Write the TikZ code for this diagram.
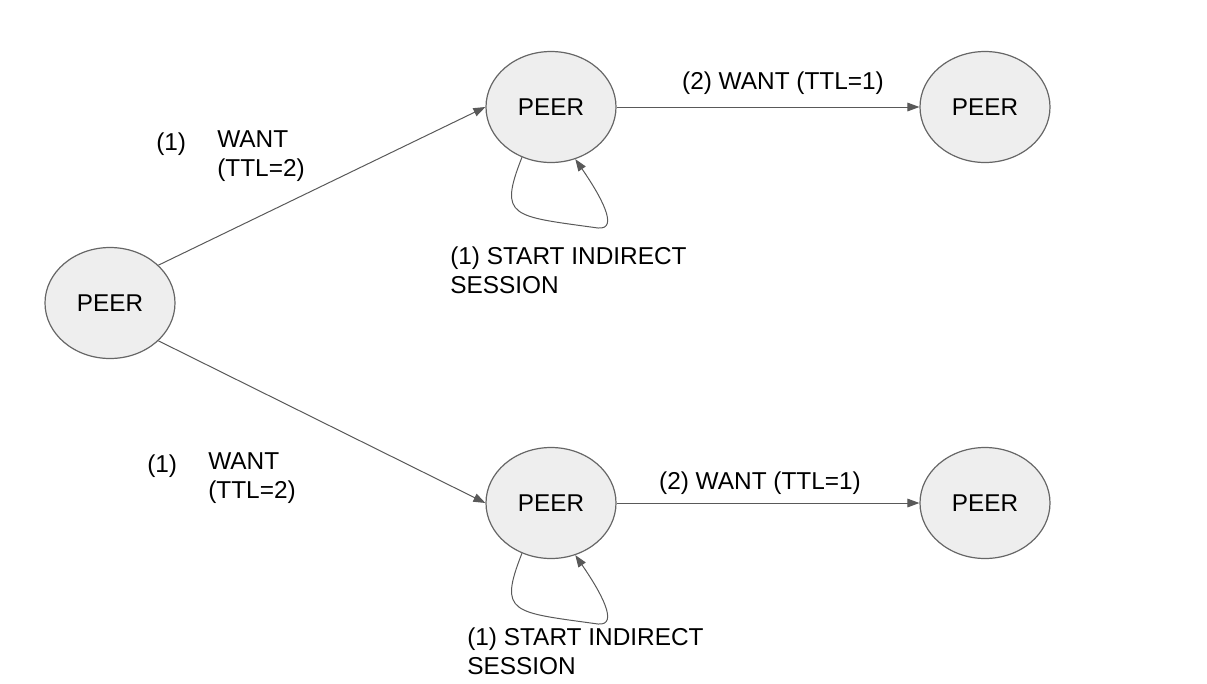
\documentclass[tikz,border=0pt]{standalone}
\usepackage{fontspec}
\setmainfont{Liberation Sans}
\usetikzlibrary{shapes.geometric,arrows.meta}
\definecolor{peerfill}{HTML}{EEEEEE}
\definecolor{peerline}{HTML}{666666}
\definecolor{edgecol}{HTML}{595959}
\begin{document}
\begin{tikzpicture}[x=0.75pt,y=-0.75pt,
  peer/.style={ellipse,draw=peerline,fill=peerfill,line width=0.9pt,minimum width=97.5pt,minimum height=83.25pt,inner sep=0pt,font=\fontsize{18.2}{21}\selectfont},
  lbl/.style={inner sep=0pt,font=\fontsize{18.3}{21.75}\selectfont,align=left},
  conn/.style={draw=edgecol,line width=0.75pt,-{Triangle[length=9pt,width=6.5pt]}}]
\useasboundingbox (0,0) rectangle (1207,683);
\node[peer] (A) at (110,303) {PEER};
\node[peer] (B) at (551,107) {PEER};
\node[peer] (C) at (985,107) {PEER};
\node[peer] (D) at (551,503) {PEER};
\node[peer] (E) at (985,503) {PEER};
\draw[conn] (A.38) -- (B.west);
\draw[conn] (A.-38) -- (D.west);
\draw[conn] (B) -- (C);
\draw[conn] (D) -- (E);
\draw[conn] (B.-120) .. controls (498,218) and (512,216) .. (598,228) .. controls (620,230) and (600,195) .. (B.-65);
\draw[conn] (D.-120) .. controls (498,614) and (512,612) .. (598,624) .. controls (620,626) and (600,591) .. (D.-65);
\node[lbl,anchor=west] (l1a) at (156,144) {(1)};
\node[lbl,anchor=north west] (l1b) at (217,130) {WANT\\(TTL=2)};
\node[lbl,anchor=west] (l2a) at (147,466) {(1)};
\node[lbl,anchor=north west] (l2b) at (208,452) {WANT\\(TTL=2)};
\node[lbl] (l3) at (783,83) {(2) WANT (TTL=1)};
\node[lbl] (l4) at (760,483) {(2) WANT (TTL=1)};
\node[lbl,anchor=north west] (l5) at (450,247) {(1) START INDIRECT\\SESSION};
\node[lbl,anchor=north west] (l6) at (467,628) {(1) START INDIRECT\\SESSION};
\end{tikzpicture}
\end{document}
